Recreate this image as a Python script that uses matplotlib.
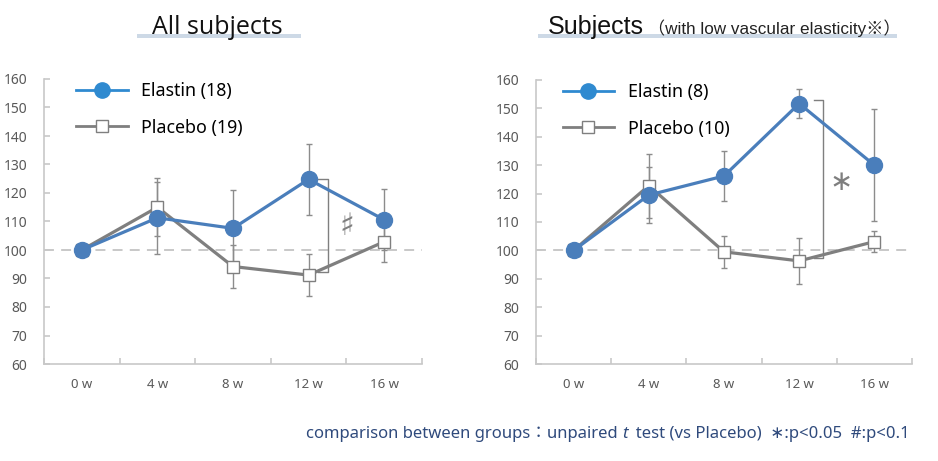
import matplotlib
matplotlib.use('Agg')
import matplotlib.pyplot as plt
from matplotlib.lines import Line2D
from matplotlib.patches import Rectangle

weeks = ['0 w', '4 w', '8 w', '12 w', '16 w']

all_elastin = [100, 111.3, 107.6, 124.8, 110.6]
all_elastin_err = [0, 12.7, 13.5, 12.4, 10.7]
all_placebo = [100, 115.0, 94.2, 91.2, 102.9]
all_placebo_err = [0, 10.1, 7.6, 7.5, 7.0]

low_elastin = [100, 119.5, 126.2, 151.7, 130.0]
low_elastin_err = [0, 9.8, 8.8, 5.1, 19.8]
low_placebo = [100, 122.8, 99.5, 96.3, 103.1]
low_placebo_err = [0, 11.3, 5.7, 8.2, 3.8]

legend_all = ['Elastin (18)', 'Placebo (19)']
legend_low = ['Elastin (8)', 'Placebo (10)']

BLUE = '#4a7ebb'
LEG_BLUE = '#2f8ad0'
GRAY = '#7f7f7f'
ERR = '#8c8c8c'
SPINE = '#c8c8c8'
TICK = '#595959'

FONT = ['Noto Sans', 'DejaVu Sans']
plt.rcParams['font.family'] = FONT

fig = plt.figure(figsize=(9.38, 4.61), dpi=100)
W, H = 938, 461


def ax_rect(x0, x1, y0, y1):
    return [x0 / W, (H - y1) / H, (x1 - x0) / W, (y1 - y0) / H]


def panel(rect, el, el_err, pl, pl_err, labels, leg_x, bracket, sig_text, sig_pos, sig_size):
    ax = fig.add_axes(rect)
    x = list(range(len(weeks)))
    ax.axhline(100, color='#c4c4c4', lw=1.3, ls=(0, (5.5, 4)), zorder=1)
    ax.errorbar(x, pl, yerr=pl_err, fmt='none', ecolor=ERR, elinewidth=1.0,
                capsize=2.5, capthick=1.0, zorder=2)
    ax.errorbar(x, el, yerr=el_err, fmt='none', ecolor=ERR, elinewidth=1.0,
                capsize=2.5, capthick=1.0, zorder=2)
    ax.plot(x, pl, color=GRAY, lw=2.3, marker='s', ms=8, mfc='white',
            mec=GRAY, mew=1.0, zorder=3)
    ax.plot(x, el, color=BLUE, lw=2.3, marker='o', ms=11.5, mfc=BLUE,
            mec=BLUE, zorder=4)
    # significance bracket
    bx0, bx1, by0, by1 = bracket
    ax.plot([bx0, bx1, bx1, bx0], [by1, by1, by0, by0], color=GRAY, lw=1.0, zorder=2.5)
    ax.text(sig_pos[0], sig_pos[1], sig_text, color=GRAY, fontsize=sig_size,
            ha='center', va='center', family=['DejaVu Sans'])

    ax.set_xlim(-0.5, 4.5)
    ax.set_ylim(60, 160)
    ax.set_yticks(range(60, 161, 10))
    ax.set_xticks(x)
    ax.set_xticklabels(weeks)
    ax.set_xticks([i - 0.5 for i in range(6)], minor=True)
    for s in ['top', 'right']:
        ax.spines[s].set_visible(False)
    for s in ['left', 'bottom']:
        ax.spines[s].set_color(SPINE)
        ax.spines[s].set_linewidth(1.2)
    ax.tick_params(axis='x', which='major', length=0, pad=10, labelsize=9.5, labelcolor=TICK)
    ax.tick_params(axis='x', which='minor', direction='in', length=4, color=SPINE, width=1.2)
    ax.tick_params(axis='y', direction='in', length=4, color=SPINE, width=1.2,
                   labelsize=10, labelcolor=TICK, pad=12)

    handles = [
        Line2D([], [], color=LEG_BLUE, lw=2.0, marker='o', ms=11, mfc=LEG_BLUE, mec=LEG_BLUE),
        Line2D([], [], color=GRAY, lw=2.0, marker='s', ms=8.5, mfc='white', mec=GRAY, mew=1.0),
    ]
    ax.legend(handles, labels, loc='upper left', bbox_to_anchor=(leg_x, 0.99),
              frameon=False, fontsize=12.8, handlelength=2.9, handletextpad=0.75,
              labelspacing=1.05, borderpad=0, borderaxespad=0)
    return ax


panel(ax_rect(44, 422, 79, 364), all_elastin, all_elastin_err, all_placebo,
      all_placebo_err, legend_all, 0.085, (3.13, 3.25, 92.3, 124.8),
      '♯', (3.5, 108.3), 22)
panel(ax_rect(536, 912, 80, 364), low_elastin, low_elastin_err, low_placebo,
      low_placebo_err, legend_low, 0.071, (3.2, 3.32, 97.5, 153.0),
      '∗', (3.56, 124.2), 20)

# title underline bars
fig.add_artist(Rectangle((137 / W, (H - 38) / H), (301 - 137) / W, 4 / H,
                         transform=fig.transFigure, color='#cdd9e6', zorder=0, lw=0))
fig.add_artist(Rectangle((538 / W, (H - 38) / H), (897 - 538) / W, 4 / H,
                         transform=fig.transFigure, color='#cdd9e6', zorder=0, lw=0))

fig.text(217 / W, (H - 34) / H, 'All subjects', fontsize=18, ha='center',
         va='baseline', color='#111111', family=['Open Sans', 'DejaVu Sans'], zorder=2)
fig.text(548 / W, (H - 34) / H, 'Subjects', fontsize=18, ha='left',
         va='baseline', color='#111111', family=['Liberation Sans', 'DejaVu Sans'], zorder=2)
fig.text(648 / W, (H - 34) / H, '（with low vascular elasticity※）', fontsize=12.3,
         ha='left', va='baseline', color='#222222',
         family=['Liberation Sans', 'Noto Sans CJK JP', 'DejaVu Sans'], zorder=2)

# footnote, built right-to-left from three pieces
NOTE = '#2f4a7c'
FS = 12
note_fam = ['Noto Sans', 'Noto Sans CJK JP', 'DejaVu Sans']
renderer = fig.canvas.get_renderer()
y_note = (H - 438) / H
p3 = fig.text(910 / W, y_note, '  test (vs Placebo)  ∗:p<0.05  #:p<0.1', fontsize=FS,
              ha='right', va='baseline', color=NOTE, family=note_fam)
x3 = p3.get_window_extent(renderer).x0
p2 = fig.text(x3 / W, y_note, 't', fontsize=FS, style='italic', ha='right',
              va='baseline', color=NOTE, family=['Noto Sans', 'DejaVu Sans'])
x2 = p2.get_window_extent(renderer).x0
fig.text(x2 / W, y_note, 'comparison between groups：unpaired ', fontsize=FS,
         ha='right', va='baseline', color=NOTE, family=note_fam)

fig.savefig('out.png', dpi=100)
